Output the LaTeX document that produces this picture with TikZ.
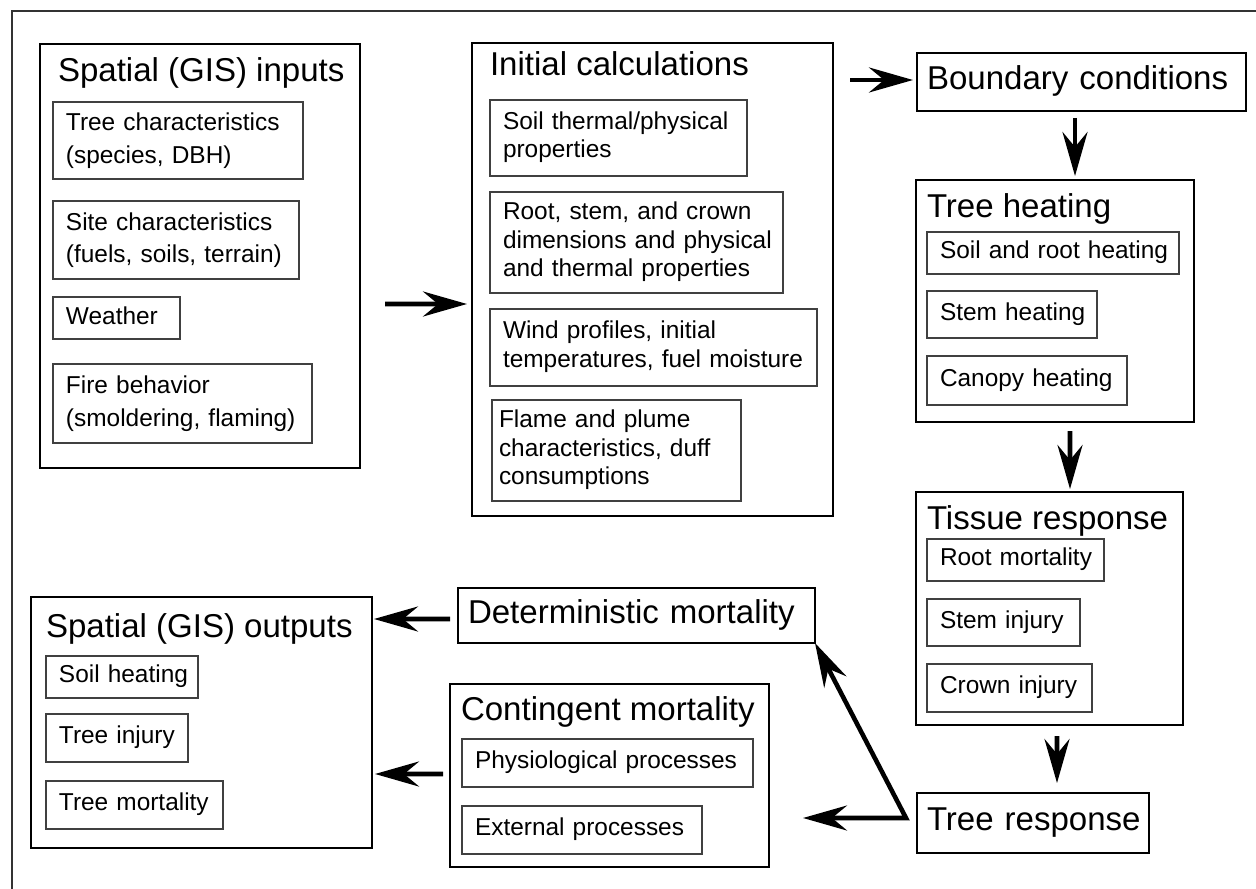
\documentclass[tikz,border=0pt]{standalone}
\usepackage{fontspec}
\setmainfont{Liberation Sans}
\usetikzlibrary{arrows.meta}
\newcommand{\tlines}[1]{\begin{tabular}{@{}l@{}}#1\end{tabular}}
\begin{document}
\begin{tikzpicture}[x=0.02cm, y=-0.02cm, line join=miter,
		>={Stealth[length=0.88cm, width=0.5cm, inset=0.3cm]},
		every node/.style={inner sep=0pt, outer sep=0pt},
		ttl/.style={font=\fontsize{18.8}{22}\selectfont, anchor=base west},
		grp/.style n args={2}{draw=black, line width=1.4pt, anchor=north west, minimum width=#1*0.02cm, minimum height=#2*0.02cm},
		bigbox/.style n args={2}{draw=black, line width=1.4pt, anchor=north west, font=\fontsize{18.8}{22}\selectfont, inner xsep=0.2cm, text width=#1*0.02cm-0.4cm, minimum height=#2*0.02cm},
		itembox/.style n args={2}{draw=black!75, line width=0.9pt, anchor=north west, font=\fontsize{13.9}{16.2}\selectfont, inner xsep=0.26cm, text width=#1*0.02cm-0.52cm, minimum height=#2*0.02cm},
		loose/.style={font=\fontsize{13.9}{18.7}\selectfont},
		flow/.style={line width=2.6pt, ->}]
	\useasboundingbox (0,0) rectangle (1256,888);
	\draw[line width=1.4pt, black!80] (12,900) -- (12,11) -- (1270,11);
	
	\node[grp={320}{424}] (inputs) at (40,44) {};
	\node[ttl] (inputs-t) at (58,82) {Spatial (GIS) inputs};
	\node[itembox={250}{77}, loose] (treechar) at (53,102) {\tlines{Tree characteristics\\(species, DBH)}};
	\node[itembox={246}{78}, loose] (sitechar) at (53,201) {\tlines{Site characteristics\\(fuels, soils, terrain)}};
	\node[itembox={127}{42}, loose] (weather) at (53,297) {\tlines{Weather}};
	\node[itembox={259}{79}, loose] (firebeh) at (53,364) {\tlines{Fire behavior\\(smoldering, flaming)}};
	
	\node[grp={361}{473}] (initial) at (472,43) {};
	\node[ttl] (initial-t) at (490,76) {Initial calculations};
	\node[itembox={257}{76}] (soilprop) at (490,100) {\tlines{Soil thermal/physical\\properties}};
	\node[itembox={293}{101}] (dims) at (490,192) {\tlines{Root, stem, and crown\\dimensions and physical\\and thermal properties}};
	\node[itembox={327}{77}] (wind) at (490,309) {\tlines{Wind profiles, initial\\temperatures, fuel moisture}};
	\node[itembox={249}{101}, inner xsep=0.14cm, text width=249*0.02cm-0.28cm] (flame) at (492,400) {\tlines{Flame and plume\\characteristics, duff\\consumptions}};
	
	\node[bigbox={329}{58}] (boundary) at (917,53) {\tlines{Boundary conditions}};
	
	\node[grp={278}{242}] (heating) at (916,180) {};
	\node[ttl] (heating-t) at (927,218) {Tree heating};
	\node[itembox={252}{42}] (soilroot) at (927,232) {\tlines{Soil and root heating}};
	\node[itembox={170}{47}] (stemheat) at (927,291) {\tlines{Stem heating}};
	\node[itembox={200}{49}] (canopy) at (927,356) {\tlines{Canopy heating}};
	
	\node[grp={267}{233}] (tissue) at (916,492) {};
	\node[ttl] (tissue-t) at (927,529) {Tissue response};
	\node[itembox={177}{42}] (rootmort) at (927,539) {\tlines{Root mortality}};
	\node[itembox={153}{47}] (steminj) at (927,599) {\tlines{Stem injury}};
	\node[itembox={165}{48}] (crowninj) at (927,664) {\tlines{Crown injury}};
	
	\node[bigbox={232}{60}] (response) at (917,793) {\tlines{Tree response}};
	
	\node[bigbox={357}{55}] (determ) at (458,588) {\tlines{Deterministic mortality}};
	
	\node[grp={319}{183}] (contingent) at (450,684) {};
	\node[ttl] (contingent-t) at (461,720) {Contingent mortality};
	\node[itembox={291}{48}] (physio) at (462,739) {\tlines{Physiological processes}};
	\node[itembox={240}{48}] (external) at (462,806) {\tlines{External processes}};
	
	\node[grp={341}{251}] (outputs) at (31,597) {};
	\node[ttl] (outputs-t) at (46,637) {Spatial (GIS) outputs};
	\node[itembox={152}{42}] (soilheat) at (46,656) {\tlines{Soil heating}};
	\node[itembox={142}{48}] (treeinj) at (46,714) {\tlines{Tree injury}};
	\node[itembox={177}{48}] (treemort) at (46,781) {\tlines{Tree mortality}};
	
	\coordinate (split) at ([shift={(-11,-5)}]response.west);
	
	\draw[flow] ([shift={(25,48)}]inputs.east) -- ([shift={(-5,24.5)}]initial.west);
	\draw[flow] ([shift={(17,37)}]initial.north east) -- ([shift={(-4,-2)}]boundary.west);
	\draw[flow] ([shift={(-6.5,7)}]boundary.south) -- ([shift={(20,-4)}]heating.north);
	\draw[flow] ([shift={(15,9)}]heating.south) -- ([shift={(20.5,-3)}]tissue.north);
	\draw[flow] ([shift={(7.5,11)}]tissue.south) -- ([shift={(24,-10)}]response.north);
	\draw[flow, <->] (determ.south east) -- (split) -- ([shift={(34,42.5)}]contingent.east);
	\draw[flow] ([shift={(-8,3.5)}]determ.west) -- ([shift={(2,22)}]outputs.north east);
	\draw[flow] ([shift={(-7,-1.5)}]contingent.west) -- ([shift={(3,51.5)}]outputs.east);
\end{tikzpicture}
\end{document}
